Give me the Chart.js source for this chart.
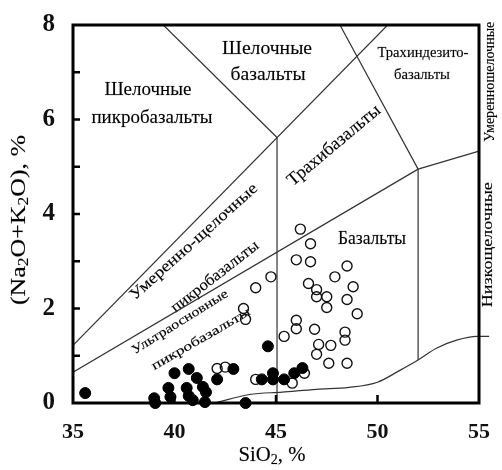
<!DOCTYPE html>
<html>
<head>
<meta charset="utf-8">
<script src="https://cdn.jsdelivr.net/npm/chart.js@4"></script>
<style>
  body { margin: 0; background: #fff; }
</style>
</head>
<body>
<canvas id="tas" width="502" height="470"></canvas>
<script>
// samples: [SiO2, Na2O+K2O]
const filledPts = [
  [35.6, 0.21], [39.0, 0.1], [39.05, 0.0], [39.7, 0.32], [39.8, 0.13],
  [40.0, 0.63], [40.7, 0.72], [40.6, 0.32], [40.7, 0.15], [40.9, 0.06],
  [41.1, 0.53], [41.4, 0.34], [41.55, 0.23], [41.5, 0.02], [42.1, 0.5],
  [42.9, 0.72], [43.5, 0.0], [44.6, 1.2], [44.3, 0.5], [44.85, 0.63],
  [44.85, 0.5], [45.4, 0.5], [45.9, 0.63], [46.3, 0.74]
]
const openPts = [
  [42.1, 0.73], [42.5, 0.76], [43.4, 2.0], [43.5, 1.77], [44.0, 0.5],
  [44.0, 2.44], [44.75, 2.67], [45.4, 1.41], [45.8, 0.42], [46.0, 1.75],
  [46.0, 1.57], [46.4, 0.63], [46.2, 3.68], [46.7, 3.37], [46.0, 3.03],
  [46.7, 2.99], [46.6, 2.53], [47.0, 2.4], [47.0, 2.25], [47.5, 2.25],
  [47.5, 2.02], [47.9, 2.67], [48.5, 2.9], [48.8, 2.46], [48.5, 2.19],
  [49.0, 1.89], [46.9, 1.56], [47.1, 1.24], [47.0, 1.03], [47.7, 1.22],
  [47.6, 0.84], [48.4, 1.5], [48.4, 1.33], [48.5, 0.84]
]

// field boundaries
const lineA = [[39.45, 8], [45.05, 5.62]]
const lineB = [[45.05, 5.62], [45.05, 0]]
const lineC = [[35, 1.22], [50.5, 8]]
const lineD = [[48.15, 8], [52.0, 4.95]]
const lineE = [[52.0, 4.95], [52.0, 0.91]]
const lineF = [[52.0, 4.95], [55, 5.33], [56.2, 5.33]]
const lineG = [[35, 0.65], [52.0, 4.95]]
const lowCurve = [
  [42.0, 0], [43.7, 0.18], [45.3, 0.23], [47.0, 0.29], [48.6, 0.33],
  [50.0, 0.44], [51.1, 0.69], [52.0, 0.91], [52.9, 1.16], [53.9, 1.33],
  [54.9, 1.41], [55.5, 1.41], [56.2, 1.38]
]

const xMajor = [40, 45, 50]
const yMinor = [1, 2, 3, 4, 5, 6, 7]

// field names: text, x, y (data units), angle, font size, width in px
const fieldLabels = [
  ['Шелочные', 38.69, 6.63, 0, 19, 87],
  ['пикробазальты', 38.89, 6.04, 0, 19, 121],
  ['Шелочные', 44.56, 7.49, 0, 19, 90],
  ['базальты', 44.61, 6.95, 0, 19, 75],
  ['Трахиндезито-', 52.24, 7.39, 0, 14, 91],
  ['базальты', 52.19, 6.93, 0, 14, 56],
  ['Трахибазальты', 47.86, 5.45, -40, 18, 116],
  ['Базальты', 49.73, 3.47, 0, 19, 68],
  ['Умеренно-щелочные', 40.96, 3.41, -42, 16, 166],
  ['пикробазальты', 42.0, 2.67, -38, 16, 107],
  ['Ультраосновные', 40.27, 1.71, -32, 13, 111],
  ['пикробазальты', 41.31, 1.35, -30, 13, 112],
  ['Умеренношелочные', 55.54, 6.8, -90, 15, 120],
  ['Низкощелочные', 55.44, 3.35, -90, 15, 125]
]

const toXY = arr => arr.map(p => ({ x: p[0], y: p[1] }))
const SERIF = '"Liberation Serif", "Times New Roman", serif'

// draws text made of [string, isSubscript] pieces, stretched to a given width
function drawRich(ctx, segs, cx, cy, angle, size, width) {
  ctx.save()
  let total = 0
  const parts = segs.map(([s, sub]) => {
    ctx.font = (sub ? size * 0.68 : size) + 'px ' + SERIF
    const w = ctx.measureText(s).width
    total += w
    return { s, sub, w }
  })
  ctx.translate(cx, cy)
  ctx.rotate(angle * Math.PI / 180)
  ctx.scale(width ? width / total : 1, 1)
  ctx.fillStyle = '#000'
  ctx.strokeStyle = 'rgba(0,0,0,0.35)'
  ctx.lineWidth = 0.4
  ctx.textBaseline = 'middle'
  ctx.textAlign = 'left'
  let x = -total / 2
  parts.forEach(p => {
    ctx.font = (p.sub ? size * 0.68 : size) + 'px ' + SERIF
    const dy = p.sub ? size * 0.22 : 0
    ctx.fillText(p.s, x, dy)
    ctx.strokeText(p.s, x, dy)
    x += p.w
  })
  ctx.restore()
}

const overlay = {
  id: 'overlay',
  beforeDatasetsDraw(chart) {
    const { ctx, scales: { x, y } } = chart
    fieldLabels.forEach(([t, dx, dy, a, s, w]) => {
      drawRich(ctx, [[t, false]], x.getPixelForValue(dx), y.getPixelForValue(dy), a, s, w)
    })
  },
  afterDatasetsDraw(chart) {
    const { ctx, chartArea: ca, scales: { x, y } } = chart
    ctx.save()
    ctx.strokeStyle = '#000'
    ctx.lineWidth = 2.5
    ctx.beginPath()
    yMinor.forEach(v => {
      const py = y.getPixelForValue(v)
      ctx.moveTo(ca.left, py)
      ctx.lineTo(ca.left + 7, py)
    })
    xMajor.forEach(v => {
      const px = x.getPixelForValue(v)
      ctx.moveTo(px, ca.bottom)
      ctx.lineTo(px, ca.bottom - 8)
    })
    ctx.stroke()
    ctx.lineWidth = 3
    ctx.strokeRect(ca.left, ca.top, ca.right - ca.left, ca.bottom - ca.top)
    ctx.restore()
  },
  afterDraw(chart) {
    const { ctx, chartArea: ca } = chart
    drawRich(ctx, [['SiO', false], ['2', true], [', %', false]],
      (ca.left + ca.right) / 2 - 4, 456, 0, 20, 67)
    drawRich(ctx, [['(Na', false], ['2', true], ['O+K', false], ['2', true], ['O), %', false]],
      20, 220, -90, 20, 170)
  }
}

const lineStyle = {
  showLine: true,
  pointRadius: 0,
  borderColor: '#333',
  borderWidth: 1.2,
  backgroundColor: 'transparent'
}

new Chart(document.getElementById('tas'), {
  type: 'scatter',
  data: {
    datasets: [
      { data: toXY(filledPts), pointRadius: 5.5, backgroundColor: '#000', borderColor: '#000', borderWidth: 1, clip: false },
      { data: toXY(openPts), pointRadius: 5, backgroundColor: 'rgba(0,0,0,0)', borderColor: '#111', borderWidth: 1.4, clip: false },
      { data: toXY(lineA), ...lineStyle },
      { data: toXY(lineB), ...lineStyle },
      { data: toXY(lineC), ...lineStyle },
      { data: toXY(lineD), ...lineStyle },
      { data: toXY(lineE), ...lineStyle },
      { data: toXY(lineF), ...lineStyle, clip: false },
      { data: toXY(lineG), ...lineStyle },
      { data: toXY(lowCurve), ...lineStyle, clip: false, tension: 0.4, cubicInterpolationMode: 'monotone' }
    ]
  },
  options: {
    responsive: false,
    animation: false,
    events: [],
    layout: { padding: { top: 23, right: 23, left: 0, bottom: 0 } },
    plugins: { legend: { display: false }, tooltip: { enabled: false } },
    scales: {
      x: {
        type: 'linear', min: 35, max: 55,
        grid: { display: false },
        border: { display: false },
        ticks: { stepSize: 5, color: '#111', padding: 8, font: { family: SERIF, size: 22, weight: 'bold' } },
        afterFit: s => { s.height = 67 }
      },
      y: {
        type: 'linear', min: 0, max: 8,
        grid: { display: false },
        border: { display: false },
        ticks: { stepSize: 2, color: '#111', padding: 10, font: { family: SERIF, size: 25, weight: 'bold' } },
        afterFit: s => { s.width = 73 }
      }
    }
  },
  plugins: [overlay]
})
</script>
</body>
</html>
